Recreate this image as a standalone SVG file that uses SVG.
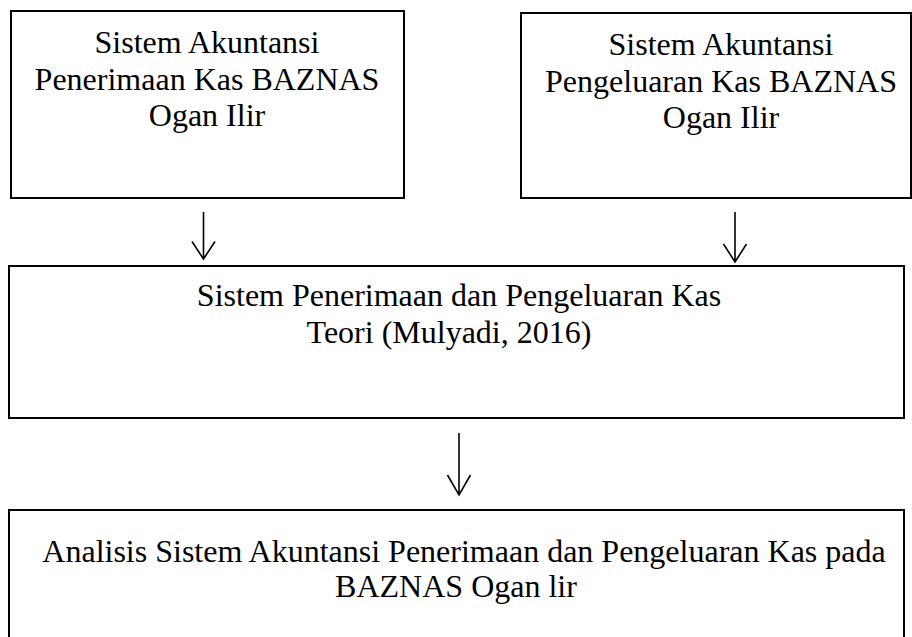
<svg xmlns="http://www.w3.org/2000/svg" width="912" height="637" viewBox="0 0 912 637">
<style>
.box{fill:#fff;stroke:#000;stroke-width:2}
.t{font-family:"Liberation Serif","Times New Roman",serif;font-size:32px;fill:#000;text-anchor:middle}
.c{fill:none;stroke:#000;stroke-width:1.6}
</style>
<rect width="912" height="637" fill="#fff"/>
<g id="node-penerimaan">
<rect class="box" x="11" y="11" width="393" height="187"/>
<text class="t" x="207" y="53">Sistem Akuntansi</text>
<text class="t" x="207" y="90">Penerimaan Kas BAZNAS</text>
<text class="t" x="207" y="126">Ogan Ilir</text>
</g>
<g id="node-pengeluaran">
<rect class="box" x="521" y="13" width="390" height="185"/>
<text class="t" x="721" y="55">Sistem Akuntansi</text>
<text class="t" x="721" y="92">Pengeluaran Kas BAZNAS</text>
<text class="t" x="721" y="128">Ogan Ilir</text>
</g>
<g id="node-teori">
<rect class="box" x="9" y="266" width="895" height="152"/>
<text class="t" x="459" y="306">Sistem Penerimaan dan Pengeluaran Kas</text>
<text class="t" x="449" y="343">Teori (Mulyadi, 2016)</text>
</g>
<g id="node-analisis">
<rect class="box" x="9" y="510" width="895" height="140"/>
<text class="t" x="464" y="562">Analisis Sistem Akuntansi Penerimaan dan Pengeluaran Kas pada</text>
<text class="t" x="456" y="597">BAZNAS Ogan lir</text>
</g>
<g id="connectors">
<path class="c" d="M203.5 212V259M192 241.5L203.5 259L215 241.5"/>
<path class="c" d="M735 212V262M723.5 244L735 262L746.5 244"/>
<path class="c" d="M459 433V495M447.5 475L459 495L470.5 475"/>
</g>
</svg>
